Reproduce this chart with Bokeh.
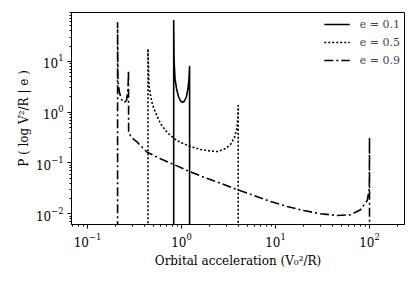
from bokeh.plotting import figure
from bokeh.models import Range1d, Legend, LegendItem
from bokeh.embed import file_html
from bokeh.resources import INLINE

# values (a value of 1e-4 means "zero", i.e. below the axis)
e01_x = [0.826, 0.826, 0.834, 0.853, 0.885, 0.929, 0.976, 1.025, 1.076, 1.130, 1.172, 1.202, 1.219, 1.219]
e01_y = [1e-4, 63.9, 10.4, 4.6, 2.93, 2.04, 1.66, 1.57, 1.66, 2.04, 2.93, 4.6, 7.94, 1e-4]

e05_x = [0.440, 0.440, 0.446, 0.451, 0.468, 0.491, 0.529, 0.598, 0.676, 0.764, 0.863, 0.976,
         1.246, 1.593, 2.035, 2.415, 2.94, 3.32, 3.66, 3.89, 3.99, 4.01, 4.01]
e05_y = [1e-4, 17.7, 6.6, 3.36, 2.13, 1.42, 0.986, 0.60, 0.436, 0.348, 0.290, 0.253,
         0.211, 0.185, 0.172, 0.168, 0.193, 0.231, 0.318, 0.478, 0.861, 1.355, 1e-4]

e09_x = [0.209, 0.209, 0.211, 0.219, 0.230, 0.246, 0.260, 0.270, 0.273, 0.274, 0.294, 0.338,
         0.431, 0.598, 0.828, 1.150, 1.727, 2.60, 3.91, 5.88, 8.85, 13.3, 20.0, 30.1, 45.3,
         62.8, 80.2, 94.6, 99.5, 100.0, 100.0]
e09_y = [1e-4, 57.5, 3.9, 2.44, 1.78, 1.55, 1.70, 2.93, 6.62, 0.398, 0.318, 0.257,
         0.163, 0.121, 0.0934, 0.0711, 0.0525, 0.040, 0.030, 0.0229, 0.0175, 0.0139, 0.0116,
         0.0100, 0.00927, 0.00955, 0.0120, 0.0183, 0.031, 0.32, 1e-4]

labels = ["e = 0.1", "e = 0.5", "e = 0.9"]

FONT = "DejaVu Serif"

p = figure(
    x_axis_type="log", y_axis_type="log",
    x_range=Range1d(0.0676, 235.6), y_range=Range1d(0.00615, 91.8),
    frame_width=333, frame_height=212,
    min_border_left=71, min_border_top=12, min_border_right=11, min_border_bottom=30,
    output_backend="svg", toolbar_location=None,
)
p.background_fill_color = "white"
p.border_fill_color = "white"
p.outline_line_color = "black"
p.outline_line_width = 1
p.grid.visible = False

r1 = p.line(e01_x, e01_y, line_color="black", line_width=1.6, line_join="round")
r2 = p.line(e05_x, e05_y, line_color="black", line_width=1.6, line_dash="2 2", line_join="round")
r3 = p.line(e09_x, e09_y, line_color="black", line_width=1.6, line_dash="9 3 2 3", line_join="round")

for ax in (p.xaxis[0], p.yaxis[0]):
    ax.major_label_text_font = FONT
    ax.major_label_text_font_size = "12px"
    ax.major_label_text_color = "black"
    ax.axis_label_text_font = FONT
    ax.axis_label_text_font_size = "12px"
    ax.axis_label_text_font_style = "normal"
    ax.axis_label_text_color = "black"
    ax.major_tick_in = 0
    ax.major_tick_out = 4
    ax.minor_tick_in = 0
    ax.minor_tick_out = 2
    ax.axis_line_color = "black"
    ax.major_tick_line_color = "black"
    ax.minor_tick_line_color = "black"

p.xaxis.axis_label = "Orbital acceleration (V\u2080\u00b2/R)"
p.yaxis.axis_label = "P ( log V\u00b2/R | e )"
p.xaxis.major_label_standoff = 4
p.yaxis.major_label_standoff = 4
p.xaxis.axis_label_standoff = 4
p.yaxis.axis_label_standoff = 2

legend = Legend(items=[
    LegendItem(label=labels[0], renderers=[r1]),
    LegendItem(label=labels[1], renderers=[r2]),
    LegendItem(label=labels[2], renderers=[r3]),
], location="top_right")
legend.border_line_color = None
legend.background_fill_alpha = 0
legend.label_text_font = FONT
legend.label_text_font_size = "11px"
legend.glyph_width = 26
legend.glyph_height = 16
legend.label_height = 16
legend.spacing = 2
legend.label_standoff = 10
legend.margin = 4
legend.padding = 4
p.add_layout(legend)

open("out.html", "w").write(file_html(p, INLINE))
